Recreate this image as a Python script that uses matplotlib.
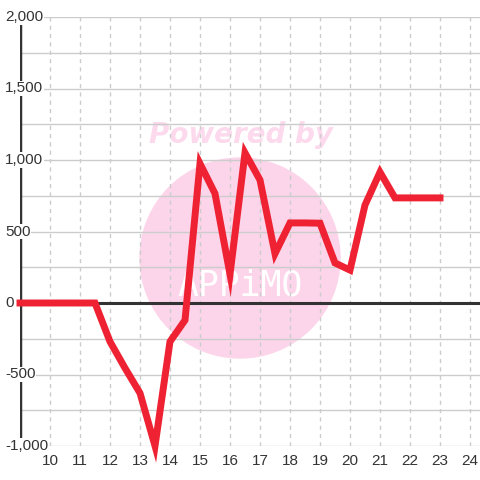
import matplotlib.pyplot as plt
import matplotlib.patches as patches

# - Data (half-hour steps)
hours = [9, 9.5, 10, 10.5, 11, 11.5, 12, 12.5, 13, 13.5, 14, 14.5, 15, 15.5,
         16, 16.5, 17, 17.5, 18, 18.5, 19, 19.5, 20, 20.5, 21, 21.5, 22, 22.5, 23]
values = [0, 0, 0, 0, 0, 0, -270, -455, -630, -1000, -270, -120, 975, 765,
          200, 1050, 860, 345, 560, 560, 558, 280, 230, 685, 915, 735, 735, 735, 735]
x_ticks = list(range(10, 25))
y_ticks = [-1000, -500, 0, 500, 1000, 1500, 2000]
y_grid = list(range(-1000, 2001, 250))

plt.rcParams['font.family'] = ['Liberation Sans', 'DejaVu Sans']

fig = plt.figure(figsize=(4.8, 4.8), dpi=100)
ax = fig.add_axes([20 / 480, 1 - 446 / 480, 460 / 480, (446 - 17) / 480])
ax.set_facecolor('none')
ax.set_xlim(9, 9 + 460 / 30)
ax.set_ylim(-1000, 2000)
for s in ax.spines.values():
    s.set_visible(False)
ax.set_xticks([])
ax.set_yticks([])

# - Watermark
circ = patches.Circle((240 / 480, 1 - 258 / 480), radius=100 / 480,
                      transform=fig.transFigure, color='#fcd5ea', zorder=0.2,
                      clip_on=False)
ax.add_patch(circ)
ax.text(241 / 480, 1 - 135 / 480, 'Powered by', color='#fcd9ec', fontsize=20,
        fontweight='bold', fontstyle='italic', ha='center', va='center',
        family='DejaVu Sans', zorder=0.3, transform=fig.transFigure)
ax.text(240 / 480, 1 - 286 / 480, 'APPiMO', color='white', fontsize=25,
        ha='center', va='center', family='DejaVu Sans Mono', zorder=0.4,
        transform=fig.transFigure)

# - Grid
for y in y_grid:
    ax.axhline(y, color='#cccccc', lw=1, zorder=1)
for x in x_ticks:
    ax.axvline(x, color='#cccccc', lw=1, ls=(0, (3, 3)), zorder=1)
ax.axhline(0, color='#333333', lw=2.2, zorder=2)
ax.axvline(9, color='#333333', lw=2.5, zorder=2)

# - Series
ax.plot(hours, values, color='#ee2233', lw=5, solid_joinstyle='miter',
        zorder=3, clip_on=False)
ax.set_ylim(-1000, 2000)

# - Labels
for y in y_ticks:
    ax.text((5 - 20) / 460, y, '{:,}'.format(y), transform=ax.get_yaxis_transform(),
            ha='left', va='center', fontsize=11, color='#333333', zorder=5,
            clip_on=False, bbox=dict(facecolor='white', edgecolor='none', pad=0.5))
for x in x_ticks:
    ax.annotate(str(x), (x, -1000), xytext=(0, -8), textcoords='offset pixels',
                ha='center', va='top', fontsize=11, color='#333333',
                annotation_clip=False)

fig.savefig('out.png', dpi=100)
